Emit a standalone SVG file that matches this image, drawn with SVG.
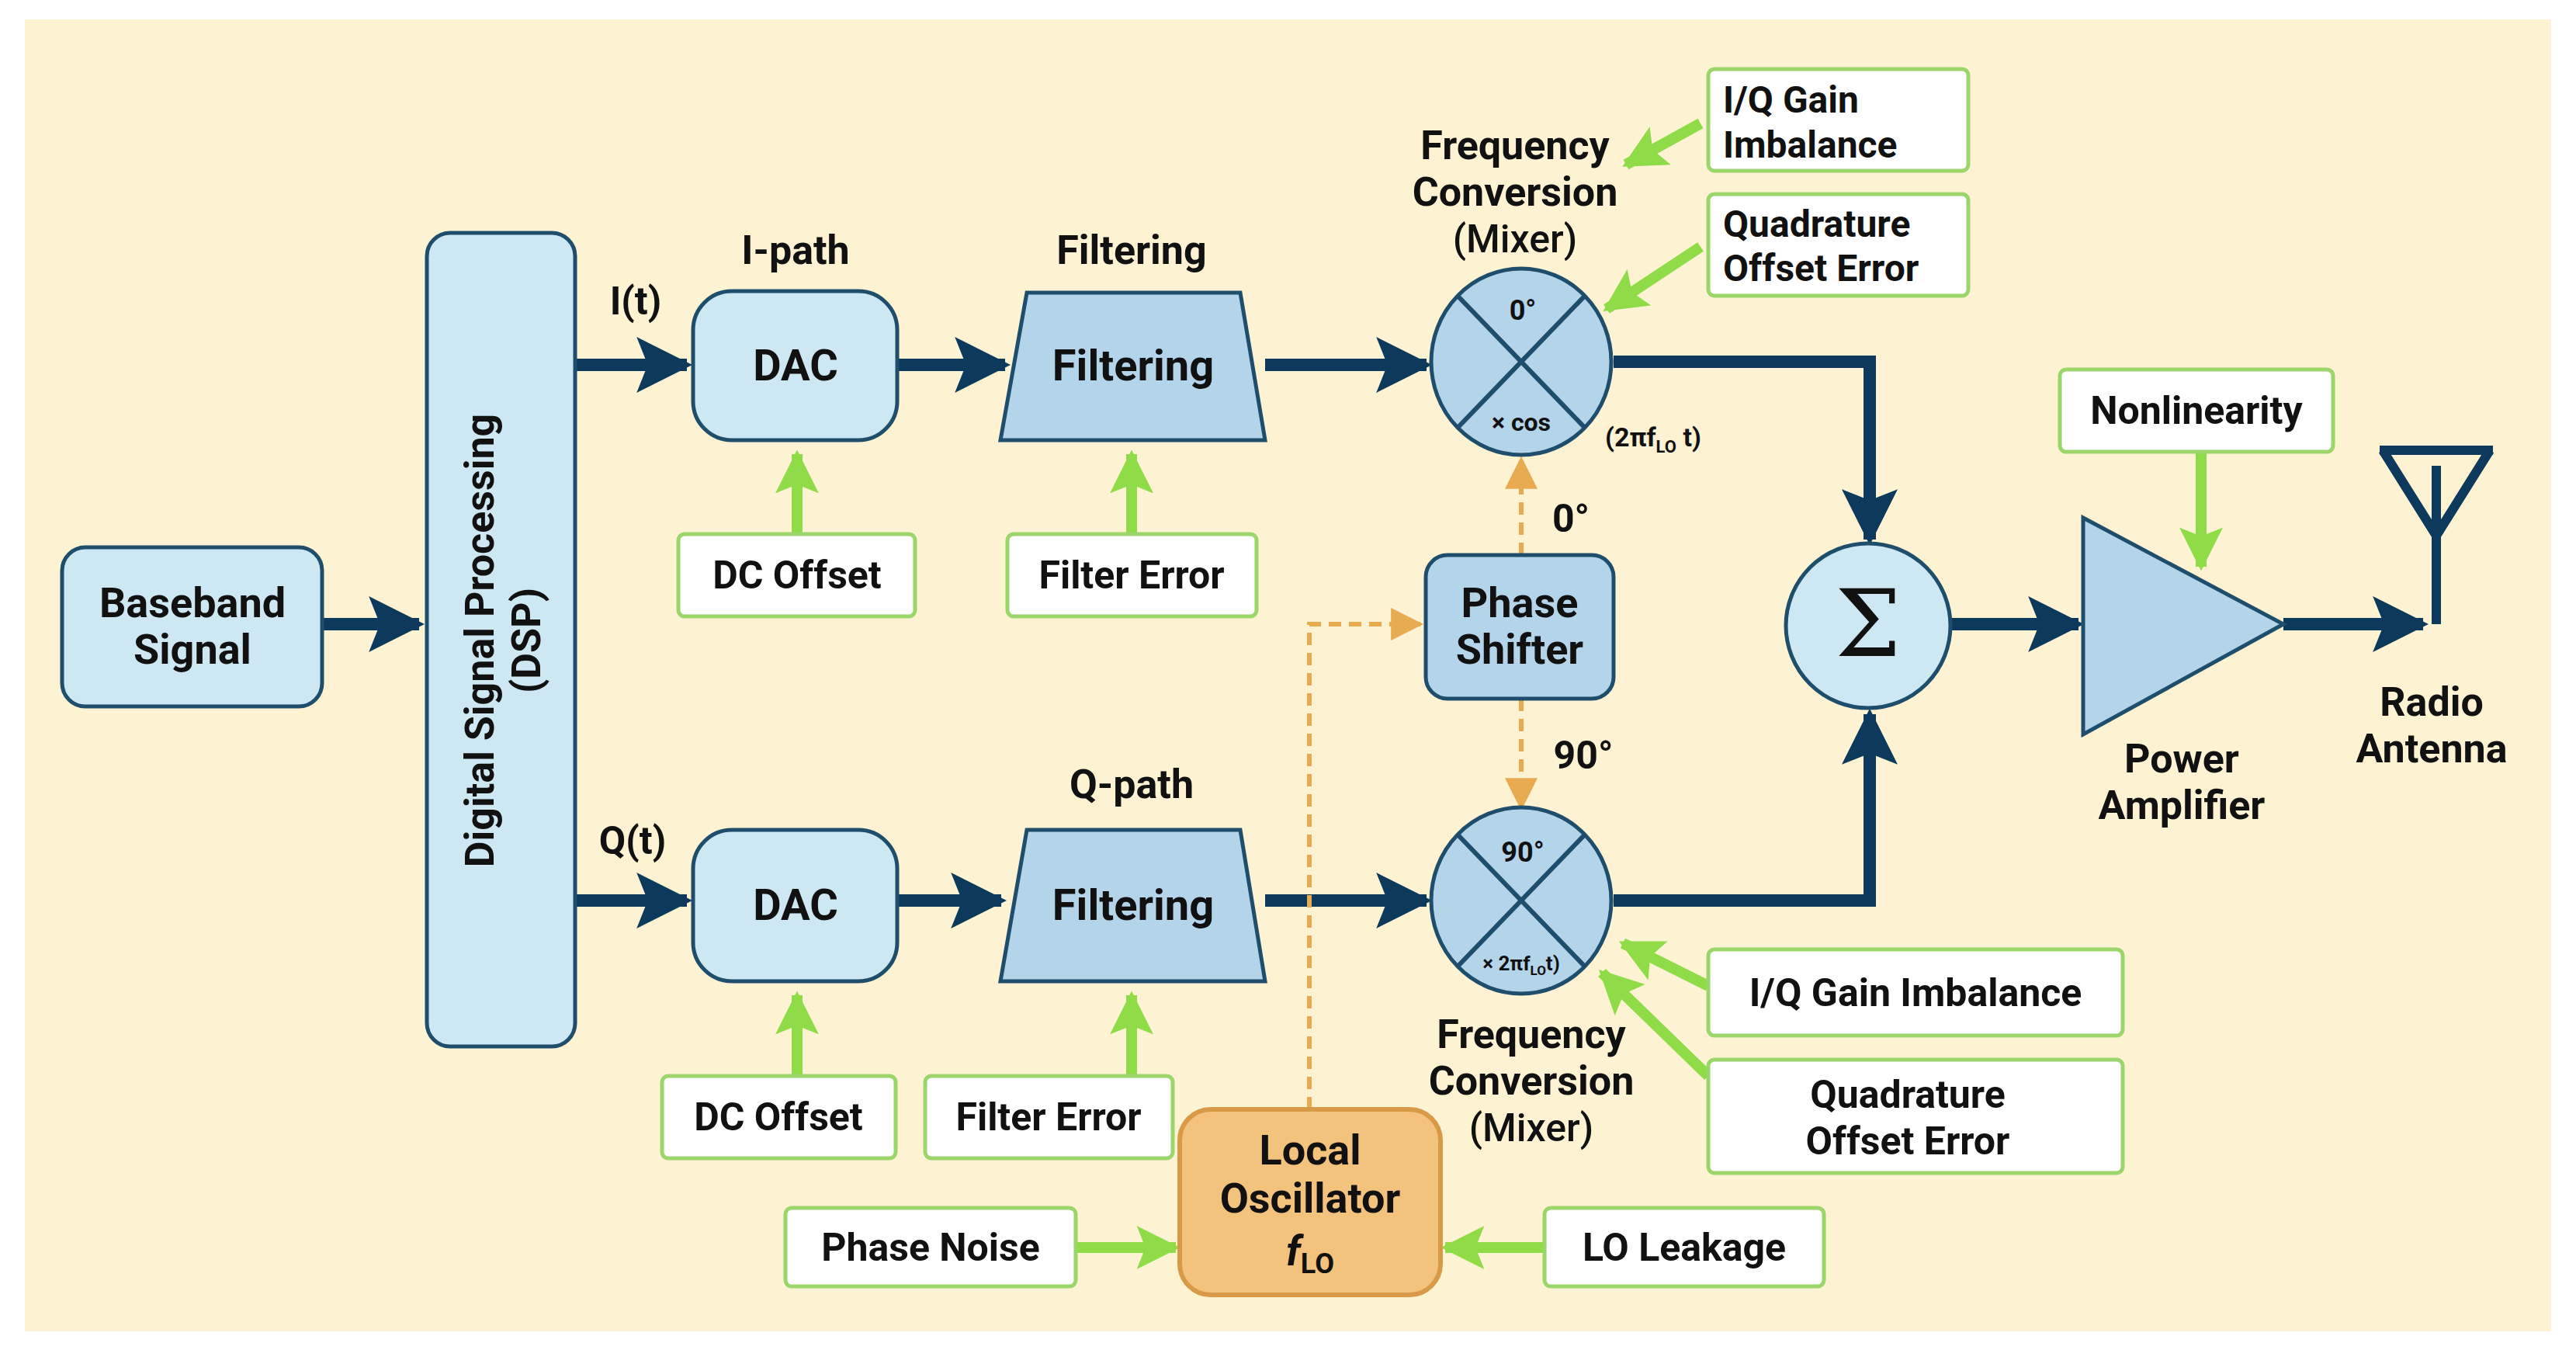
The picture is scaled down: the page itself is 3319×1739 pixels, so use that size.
<svg xmlns="http://www.w3.org/2000/svg" width="3319" height="1739" viewBox="0 0 3319 1739">
<defs>
<style>
.t{font-family:Roboto,"Liberation Sans",sans-serif;font-weight:bold;fill:#111;text-anchor:middle}
.node{fill:#cde7f3;stroke:#1f4d6c;stroke-width:5}
.blk{fill:#b4d4ea;stroke:#1f4d6c;stroke-width:5}
.err{fill:#fff;stroke:#9bd66a;stroke-width:5}
.main{stroke:#0d3a5c;stroke-width:16;fill:none}
.grn{stroke:#8fdb48;stroke-width:14;fill:none}
.dash{stroke:#e8ab52;stroke-width:6;fill:none;stroke-dasharray:16 10}
</style>
<marker id="ab" viewBox="0 0 10 10" refX="9" refY="5" markerWidth="4.5" markerHeight="4.5" orient="auto" markerUnits="strokeWidth"><path d="M0,0L10,5L0,10L2,5z" fill="#0d3a5c"/></marker>
<marker id="ag" viewBox="0 0 10 10" refX="9" refY="5" markerWidth="4" markerHeight="4" orient="auto" markerUnits="strokeWidth"><path d="M0,0L10,5L0,10L2,5z" fill="#8fdb48"/></marker>
<marker id="ao" viewBox="0 0 10 10" refX="9" refY="5" markerWidth="7" markerHeight="7" orient="auto" markerUnits="strokeWidth"><path d="M0,0L10,5L0,10z" fill="#e8ab52"/></marker>
</defs>
<rect x="0" y="0" width="3319" height="1739" fill="#fff"/>
<rect x="32" y="25" width="3255" height="1690" fill="#fdf2d2"/>

<g id="connectors">
<path class="main" d="M415,804H540" marker-end="url(#ab)"/>
<path class="main" d="M741,470H885" marker-end="url(#ab)"/>
<path class="main" d="M741,1160H885" marker-end="url(#ab)"/>
<path class="main" d="M1156,470H1295" marker-end="url(#ab)"/>
<path class="main" d="M1156,1160H1290" marker-end="url(#ab)"/>
<path class="main" d="M1630,470H1838" marker-end="url(#ab)"/>
<path class="main" d="M1630,1160H1838" marker-end="url(#ab)"/>
<path class="main" d="M2079,466H2409V695" marker-end="url(#ab)"/>
<path class="main" d="M2079,1160H2409V920" marker-end="url(#ab)"/>
<path class="main" d="M2515,804H2678" marker-end="url(#ab)"/>
<path class="main" d="M2942,804H3122" marker-end="url(#ab)"/>
<path class="grn" d="M1027,688V585" marker-end="url(#ag)"/>
<path class="grn" d="M1458,688V585" marker-end="url(#ag)"/>
<path class="grn" d="M1027,1386V1282" marker-end="url(#ag)"/>
<path class="grn" d="M1458,1386V1282" marker-end="url(#ag)"/>
<path class="grn" d="M2191,159L2095,212" marker-end="url(#ag)"/>
<path class="grn" d="M2191,318L2070,398" marker-end="url(#ag)"/>
<path class="grn" d="M2201,1270L2091,1215" marker-end="url(#ag)"/>
<path class="grn" d="M2201,1386L2064,1253" marker-end="url(#ag)"/>
<path class="grn" d="M1386,1607H1515" marker-end="url(#ag)"/>
<path class="grn" d="M1990,1607H1862" marker-end="url(#ag)"/>
<path class="grn" d="M2836,582V730" marker-end="url(#ag)"/>
<path class="dash" d="M1960,715V592" marker-end="url(#ao)"/>
<path class="dash" d="M1960,900V1040" marker-end="url(#ao)"/>
<path class="dash" d="M1687,1429V804H1830" marker-end="url(#ao)"/>
</g>

<g id="baseband"><rect class="node" x="80" y="705" width="335" height="205" rx="30"/><text class="t" font-size="54" x="248" y="795">Baseband</text><text class="t" font-size="54" x="248" y="855">Signal</text></g>
<g id="dsp"><rect class="node" x="550" y="300" width="191" height="1048" rx="30"/><text class="t" font-size="52" transform="translate(646,825) rotate(-90)"><tspan x="0" y="-10">Digital Signal Processing</tspan><tspan x="0" y="50">(DSP)</tspan></text></g>
<text class="t" font-size="50" x="819" y="405">I(t)</text>
<text class="t" font-size="50" x="815" y="1100">Q(t)</text>
<g id="dac-i"><rect class="node" x="893" y="375" width="263" height="192" rx="50"/><text class="t" font-size="56" x="1025" y="490">DAC</text></g>
<g id="dac-q"><rect class="node" x="893" y="1069" width="263" height="195" rx="50"/><text class="t" font-size="56" x="1025" y="1185">DAC</text></g>
<text class="t" font-size="52" x="1025" y="340">I-path</text>
<text class="t" font-size="52" x="1458" y="340">Filtering</text>
<text class="t" font-size="52" x="1458" y="1028">Q-path</text>
<g id="filter-i"><polygon class="blk" points="1323,377 1598,377 1630,567 1289,567"/><text class="t" font-size="56" x="1460" y="490">Filtering</text></g>
<g id="filter-q"><polygon class="blk" points="1323,1069 1598,1069 1630,1264 1289,1264"/><text class="t" font-size="56" x="1460" y="1185">Filtering</text></g>
<g id="dc-i"><rect class="err" x="874" y="688" width="305" height="106" rx="8"/><text class="t" font-size="50" x="1027" y="758">DC Offset</text></g>
<g id="fe-i"><rect class="err" x="1298" y="688" width="321" height="106" rx="8"/><text class="t" font-size="50" x="1458" y="758">Filter Error</text></g>
<g id="dc-q"><rect class="err" x="853" y="1386" width="301" height="106" rx="8"/><text class="t" font-size="50" x="1003" y="1456">DC Offset</text></g>
<g id="fe-q"><rect class="err" x="1192" y="1386" width="319" height="106" rx="8"/><text class="t" font-size="50" x="1351" y="1456">Filter Error</text></g>

<g id="mixer-i"><ellipse class="blk" cx="1960" cy="466" rx="116" ry="120"/><path d="M1878,381L2042,551M2042,381L1878,551" stroke="#1f4d6c" stroke-width="6"/><text class="t" font-size="36" x="1962" y="412">0°</text><text class="t" font-size="32" x="1960" y="555">× cos</text></g>
<text class="t" font-size="34" x="2130" y="575">(2πf<tspan font-size="22" dy="8">LO</tspan><tspan dy="-8"> t)</tspan></text>
<text class="t" font-size="52" x="1952" y="205">Frequency</text><text class="t" font-size="52" x="1952" y="265">Conversion</text><text class="t" font-size="50" font-weight="normal" x="1952" y="325" style="font-weight:500">(Mixer)</text>
<g id="iqg-i"><rect class="err" x="2201" y="89" width="335" height="131" rx="8"/><text class="t" font-size="48" x="2220" y="145" style="text-anchor:start">I/Q Gain</text><text class="t" font-size="48" x="2220" y="203" style="text-anchor:start">Imbalance</text></g>
<g id="qoe-i"><rect class="err" x="2201" y="250" width="335" height="131" rx="8"/><text class="t" font-size="48" x="2220" y="305" style="text-anchor:start">Quadrature</text><text class="t" font-size="48" x="2220" y="362" style="text-anchor:start">Offset Error</text></g>

<g id="phase-shifter"><rect class="blk" x="1837" y="715" width="242" height="185" rx="28"/><text class="t" font-size="54" x="1958" y="795">Phase</text><text class="t" font-size="54" x="1958" y="855">Shifter</text></g>
<text class="t" font-size="50" x="2024" y="685">0°</text>
<text class="t" font-size="50" x="2040" y="990">90°</text>

<g id="mixer-q"><ellipse class="blk" cx="1960" cy="1160" rx="116" ry="120"/><path d="M1878,1075L2042,1245M2042,1075L1878,1245" stroke="#1f4d6c" stroke-width="6"/><text class="t" font-size="36" x="1962" y="1110">90°</text><text class="t" font-size="26" x="1960" y="1250">× 2πf<tspan font-size="17" dy="6">LO</tspan><tspan dy="-6">t)</tspan></text></g>
<text class="t" font-size="52" x="1973" y="1350">Frequency</text><text class="t" font-size="52" x="1973" y="1410">Conversion</text><text class="t" font-size="50" x="1973" y="1470" style="font-weight:500">(Mixer)</text>
<g id="iqg-q"><rect class="err" x="2201" y="1223" width="534" height="111" rx="8"/><text class="t" font-size="50" x="2468" y="1296">I/Q Gain Imbalance</text></g>
<g id="qoe-q"><rect class="err" x="2201" y="1365" width="534" height="146" rx="8"/><text class="t" font-size="50" x="2458" y="1427">Quadrature</text><text class="t" font-size="50" x="2458" y="1487">Offset Error</text></g>

<g id="lo"><rect x="1520" y="1429" width="336" height="239" rx="40" fill="#f3c27c" stroke="#d99a48" stroke-width="6"/><text class="t" font-size="54" x="1688" y="1500">Local</text><text class="t" font-size="54" x="1688" y="1562">Oscillator</text><text class="t" font-size="54" x="1688" y="1630" font-style="italic">f<tspan font-size="36" dy="10" font-style="normal">LO</tspan></text></g>
<g id="phase-noise"><rect class="err" x="1012" y="1556" width="374" height="101" rx="8"/><text class="t" font-size="50" x="1199" y="1624">Phase Noise</text></g>
<g id="lo-leak"><rect class="err" x="1990" y="1556" width="360" height="101" rx="8"/><text class="t" font-size="50" x="2170" y="1624">LO Leakage</text></g>

<g id="sum"><circle class="blk" cx="2407" cy="806" r="106" style="fill:#cde7f3"/><text x="2407" y="845" font-family="'DejaVu Serif',serif" font-size="120" text-anchor="middle" fill="#111">Σ</text></g>
<g id="pa"><polygon class="blk" points="2684,667 2684,946 2942,804"/></g>
<text class="t" font-size="52" x="2811" y="995">Power</text><text class="t" font-size="52" x="2811" y="1055">Amplifier</text>
<g id="nonlin"><rect class="err" x="2654" y="476" width="352" height="106" rx="8"/><text class="t" font-size="50" x="2830" y="546">Nonlinearity</text></g>
<g id="antenna"><path d="M3139,804V600M3070,580L3139,690L3208,580M3066,580H3212" stroke="#0d3a5c" stroke-width="12" fill="none" stroke-linejoin="round"/></g>
<text class="t" font-size="52" x="3133" y="922">Radio</text><text class="t" font-size="52" x="3133" y="982">Antenna</text>
</svg>
